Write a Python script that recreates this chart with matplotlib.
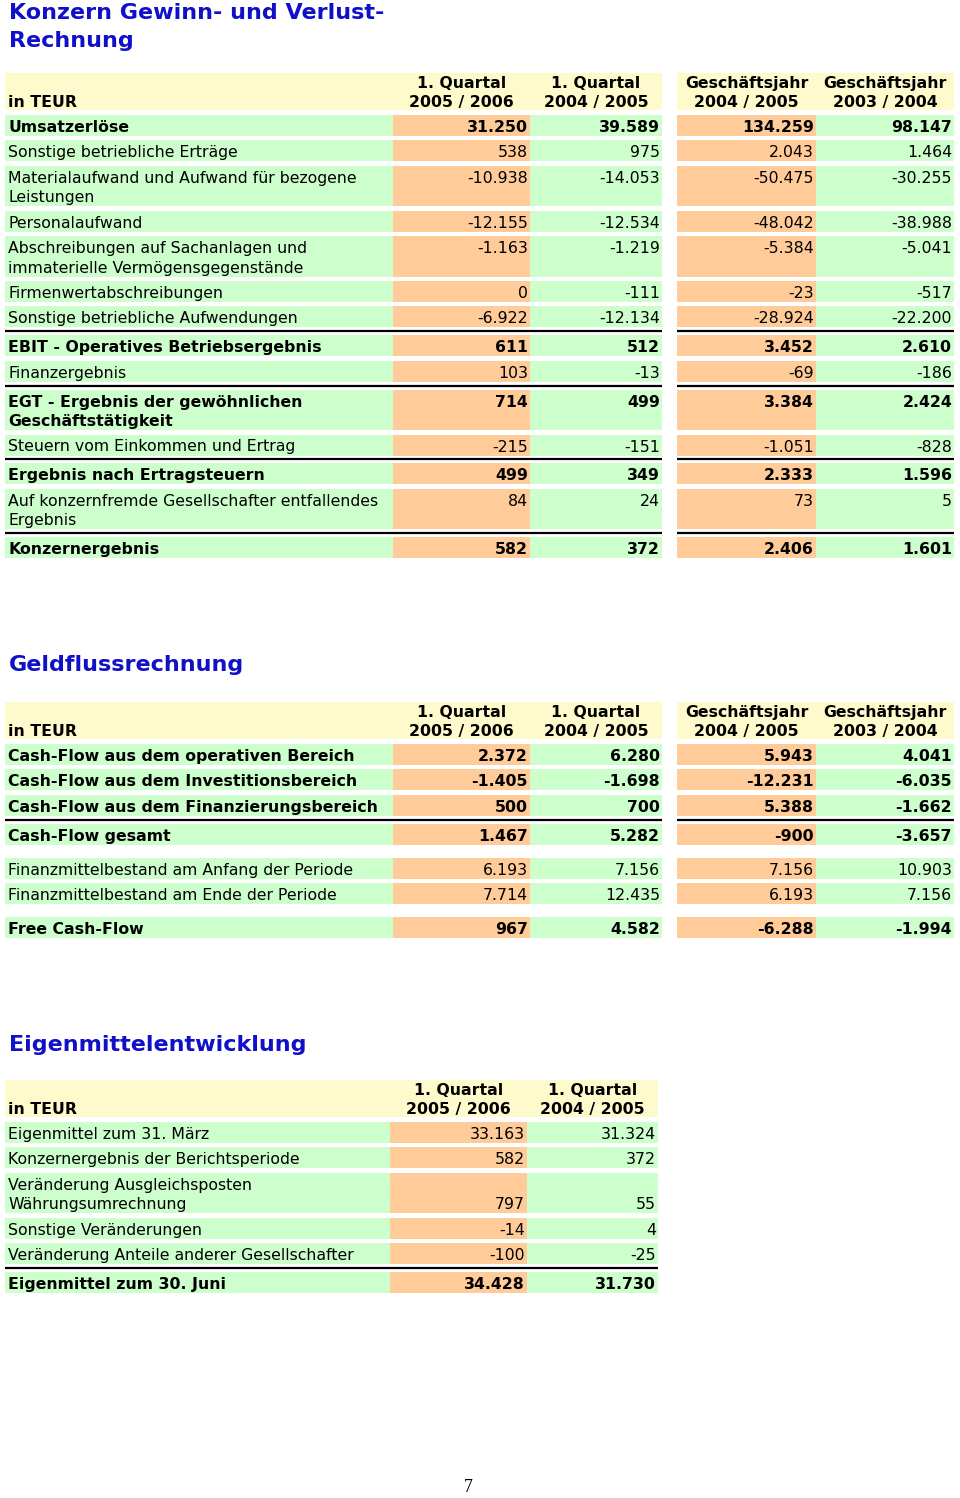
import matplotlib
matplotlib.use('Agg')
import matplotlib.pyplot as plt
from matplotlib.patches import Rectangle

plt.rcParams['font.family'] = ['DejaVu Sans']

# --- Konzern Gewinn- und Verlustrechnung (TEUR) ---
guv_labels = [
    'Umsatzerlöse',
    'Sonstige betriebliche Erträge',
    'Materialaufwand und Aufwand für bezogene\nLeistungen',
    'Personalaufwand',
    'Abschreibungen auf Sachanlagen und\nimmaterielle Vermögensgegenstände',
    'Firmenwertabschreibungen',
    'Sonstige betriebliche Aufwendungen',
    'EBIT - Operatives Betriebsergebnis',
    'Finanzergebnis',
    'EGT - Ergebnis der gewöhnlichen\nGeschäftstätigkeit',
    'Steuern vom Einkommen und Ertrag',
    'Ergebnis nach Ertragsteuern',
    'Auf konzernfremde Gesellschafter entfallendes\nErgebnis',
    'Konzernergebnis',
]
guv_q1_0506 = [31250, 538, -10938, -12155, -1163, 0, -6922, 611, 103, 714, -215, 499, 84, 582]
guv_q1_0405 = [39589, 975, -14053, -12534, -1219, -111, -12134, 512, -13, 499, -151, 349, 24, 372]
guv_gj_0405 = [134259, 2043, -50475, -48042, -5384, -23, -28924, 3452, -69, 3384, -1051, 2333, 73, 2406]
guv_gj_0304 = [98147, 1464, -30255, -38988, -5041, -517, -22200, 2610, -186, 2424, -828, 1596, 5, 1601]
guv_bold = ['Umsatzerlöse', 'EBIT - Operatives Betriebsergebnis',
            'EGT - Ergebnis der gewöhnlichen\nGeschäftstätigkeit',
            'Ergebnis nach Ertragsteuern', 'Konzernergebnis']
guv_lines = ['EBIT - Operatives Betriebsergebnis',
             'EGT - Ergebnis der gewöhnlichen\nGeschäftstätigkeit',
             'Ergebnis nach Ertragsteuern', 'Konzernergebnis']

# --- Geldflussrechnung ---
cf_labels = [
    'Cash-Flow aus dem operativen Bereich',
    'Cash-Flow aus dem Investitionsbereich',
    'Cash-Flow aus dem Finanzierungsbereich',
    'Cash-Flow gesamt',
    'Finanzmittelbestand am Anfang der Periode',
    'Finanzmittelbestand am Ende der Periode',
    'Free Cash-Flow',
]
cf_q1_0506 = [2372, -1405, 500, 1467, 6193, 7714, 967]
cf_q1_0405 = [6280, -1698, 700, 5282, 7156, 12435, 4582]
cf_gj_0405 = [5943, -12231, 5388, -900, 7156, 6193, -6288]
cf_gj_0304 = [4041, -6035, -1662, -3657, 10903, 7156, -1994]
cf_bold = ['Cash-Flow aus dem operativen Bereich', 'Cash-Flow aus dem Investitionsbereich',
           'Cash-Flow aus dem Finanzierungsbereich', 'Cash-Flow gesamt', 'Free Cash-Flow']
cf_lines = ['Cash-Flow gesamt']
cf_spacers = ['Finanzmittelbestand am Anfang der Periode', 'Free Cash-Flow']

# --- Eigenmittelentwicklung ---
em_labels = [
    'Eigenmittel zum 31. März',
    'Konzernergebnis der Berichtsperiode',
    'Veränderung Ausgleichsposten\nWährungsumrechnung',
    'Sonstige Veränderungen',
    'Veränderung Anteile anderer Gesellschafter',
    'Eigenmittel zum 30. Juni',
]
em_q1_0506 = [33163, 582, 797, -14, -100, 34428]
em_q1_0405 = [31324, 372, 55, 4, -25, 31730]
em_bold = ['Eigenmittel zum 30. Juni']
em_lines = ['Eigenmittel zum 30. Juni']

quarter_headers = [('1. Quartal', '2005 / 2006'), ('1. Quartal', '2004 / 2005')]
year_headers = [('Geschäftsjahr', '2004 / 2005'), ('Geschäftsjahr', '2003 / 2004')]

YELLOW = '#FFFACC'
GREEN = '#CCFFCC'
ORANGE = '#FFCC99'
BLUE = '#1010C8'
FS = 11.3

ROW_H = 21
GAP = 4.4
LINE_GAP = 3.5
SPACER = 8.5
LINE_STEP = 19.5
HDR_H = 37


def fmt(v):
    return f'{v:,}'.replace(',', '.')


def draw_table(ax, top, labels, columns, headers, col_edges, blocks,
               bold_rows, line_rows, spacer_rows=(), numbers_bottom=False):
    for x0, x1 in blocks:
        ax.add_patch(Rectangle((x0, top), x1 - x0, HDR_H, color=YELLOW, lw=0))
    ax.text(8, top + 34, 'in TEUR', fontsize=FS, weight='bold', va='baseline')
    for (x0, x1), (h1, h2) in zip(col_edges, headers):
        xc = (x0 + x1) / 2
        ax.text(xc, top + 15, h1, fontsize=FS, weight='bold', ha='center', va='baseline')
        ax.text(xc, top + 34, h2, fontsize=FS, weight='bold', ha='center', va='baseline')

    y = top + HDR_H + 5
    label_x0 = blocks[0][0]
    label_x1 = col_edges[0][0]
    for i, lab in enumerate(labels):
        if lab in spacer_rows:
            y += SPACER
        if lab in line_rows:
            ly = y - GAP + (GAP + LINE_GAP) / 2
            for x0, x1 in blocks:
                ax.plot([x0, x1], [ly, ly], color='black', lw=1.6, solid_capstyle='butt')
            y += LINE_GAP
        lines = lab.split('\n')
        h = ROW_H + LINE_STEP * (len(lines) - 1)
        weight = 'bold' if lab in bold_rows else 'normal'

        cell = Rectangle((label_x0, y), label_x1 - label_x0, h, color=GREEN, lw=0)
        ax.add_patch(cell)
        for k, line in enumerate(lines):
            t = ax.text(label_x0 + 3, y + 17 + k * LINE_STEP, line, fontsize=FS,
                        weight=weight, va='baseline')
            t.set_clip_path(cell)

        num_y = y + 17 + (LINE_STEP * (len(lines) - 1) if numbers_bottom else 0)
        for j, ((x0, x1), vals) in enumerate(zip(col_edges, columns)):
            ax.add_patch(Rectangle((x0, y), x1 - x0, h,
                                   color=ORANGE if j % 2 == 0 else GREEN, lw=0))
            ax.text(x1 - 2, num_y, fmt(vals[i]), fontsize=FS, weight=weight,
                    ha='right', va='baseline')
        y += h + GAP


fig = plt.figure(figsize=(9.6, 14.98), dpi=100)
ax = fig.add_axes([0, 0, 1, 1])
ax.set_xlim(0, 960)
ax.set_ylim(1498, 0)
ax.axis('off')

title_kw = dict(fontsize=16, weight='bold', color=BLUE, va='center')
ax.text(9, 13, 'Konzern Gewinn- und Verlust-', **title_kw)
ax.text(9, 41, 'Rechnung', **title_kw)
ax.text(9, 665, 'Geldflussrechnung', **title_kw)
ax.text(9, 1045, 'Eigenmittelentwicklung', **title_kw)

four_cols = [(393, 530), (530, 662), (677, 816), (816, 954)]
four_blocks = [(5, 662), (677, 954)]

draw_table(ax, 73, guv_labels,
           [guv_q1_0506, guv_q1_0405, guv_gj_0405, guv_gj_0304],
           quarter_headers + year_headers, four_cols, four_blocks,
           guv_bold, guv_lines)

draw_table(ax, 702, cf_labels,
           [cf_q1_0506, cf_q1_0405, cf_gj_0405, cf_gj_0304],
           quarter_headers + year_headers, four_cols, four_blocks,
           cf_bold, cf_lines, cf_spacers)

draw_table(ax, 1080, em_labels, [em_q1_0506, em_q1_0405],
           quarter_headers, [(390, 527), (527, 658)], [(5, 658)],
           em_bold, em_lines, numbers_bottom=True)

ax.text(468, 1488, '7', fontsize=13, family='Liberation Serif', ha='center', va='center')

fig.savefig('out.png', dpi=100)
